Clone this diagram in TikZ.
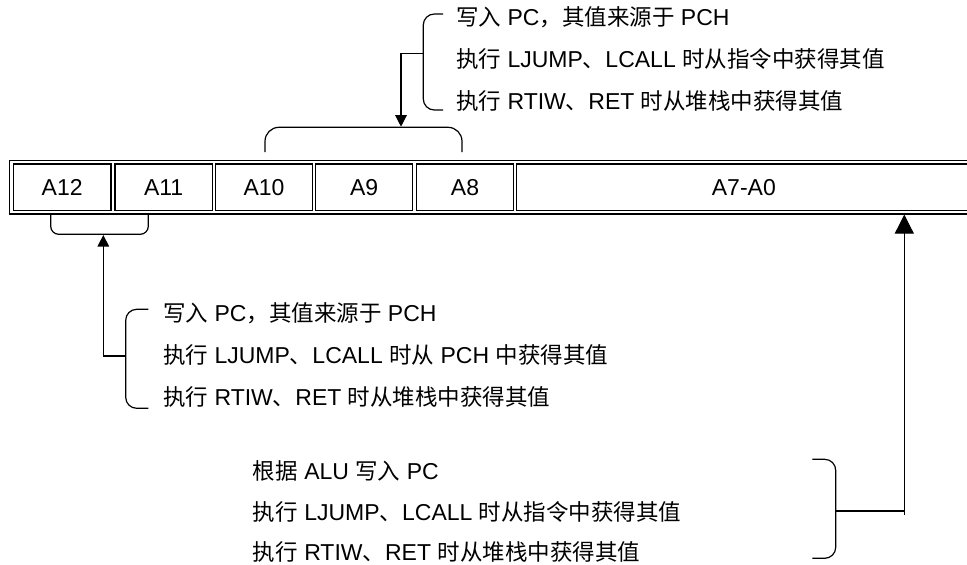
\documentclass[tikz,border=0pt]{standalone}
\usepackage{fontspec}
\setmainfont{Liberation Sans}
\newfontfamily\cjkfont{Noto Sans CJK SC}
\usetikzlibrary{arrows.meta}
\newcommand\zh[1]{{\cjkfont\fontsize{22.5}{24}\selectfont #1}}
\tikzset{
  ln/.style={line width=1.2pt},
  cell/.style={draw, line width=1.2pt, inner sep=0pt, outer sep=0pt, minimum height=46.7pt, font=\fontsize{23}{24}\selectfont},
  note/.style={anchor=west, inner sep=0pt, font=\fontsize{23}{24}\selectfont},
  brk/.style={line width=1.2pt, rounded corners=11pt},
  arr/.style={line width=1.2pt, -{Triangle[length=11.5pt,width=11.5pt]}},
  bigarr/.style={line width=1.2pt, -{Triangle[length=19pt,width=19pt]}},
}
\begin{document}
\begin{tikzpicture}[x=1pt,y=-1pt]
\clip (0,0) rectangle (967,565);
\fill[white] (0,0) rectangle (967,565);
% register outer frame
\draw[ln] (9.3,160.7) rectangle (990,214);
% cells
\node[cell, minimum width=97.7pt]  (a12) at (62.15,187.35) {A12};
\node[cell, minimum width=97.3pt]  (a11) at (163.65,187.35) {A11};
\node[cell, minimum width=96.6pt]  (a10) at (264.0,187.35) {A10};
\node[cell, minimum width=97.0pt]  (a9)  at (364.2,187.35) {A9};
\node[cell, minimum width=96.6pt]  (a8)  at (465.0,187.35) {A8};
\node[cell, minimum width=454.3pt] (a70) at (743.85,187.35) {A7-A0};
% top brace over A10-A8
\draw[brk, rounded corners=14pt] (265,152) -- (265,127.3) -- (462,127.3) -- (462,152);
% bottom brace under A12-A11
\draw[brk, rounded corners=8pt] (50.7,214) -- (50.7,234.3) -- (148.3,234.3) -- (148.3,214);
% top annotation
\node[note] (t1) at (456,17) {\zh{写入} PC\zh{，其值来源于} PCH};
\node[note] (t2) at (456,59) {\zh{执行} LJUMP\zh{、}LCALL \zh{时从指令中获得其值}};
\node[note] (t3) at (456,101) {\zh{执行} RTIW\zh{、}RET \zh{时从堆栈中获得其值}};
\draw[brk] (443,14) -- (423.3,14) -- (423.3,110) -- (443,110);
\coordinate (ttick) at (423.3,53.3);
\coordinate (ttip) at (401,126.7);
\draw[arr] (ttick) -| (ttip);
% left annotation
\node[note] (l1) at (163,313) {\zh{写入} PC\zh{，其值来源于} PCH};
\node[note] (l2) at (163,355) {\zh{执行} LJUMP\zh{、}LCALL \zh{时从} PCH \zh{中获得其值}};
\node[note] (l3) at (163,397) {\zh{执行} RTIW\zh{、}RET \zh{时从堆栈中获得其值}};
\draw[brk] (148.3,309.3) -- (125.7,309.3) -- (125.7,408.3) -- (148.3,408.3);
\coordinate (ltick) at (125.7,356);
\coordinate (ltip) at (103.3,235);
\draw[arr] (ltick) -| (ltip);
% bottom right annotation
\node[note] (b1) at (252.7,471) {\zh{根据} ALU \zh{写入} PC};
\node[note] (b2) at (252.7,511.5) {\zh{执行} LJUMP\zh{、}LCALL \zh{时从指令中获得其值}};
\node[note] (b3) at (252.7,552) {\zh{执行} RTIW\zh{、}RET \zh{时从堆栈中获得其值}};
\draw[brk] (812.3,459.3) -- (835.7,459.3) -- (835.7,558.3) -- (812.3,558.3);
\coordinate (rtick) at (835.7,511);
\coordinate (rtip) at (904.3,214.6);
\coordinate (rfoot) at (904.3,515);
\draw[ln] (rtick) -- (rtick -| rtip);
\draw[bigarr] (rfoot) -- (rtip);
\end{tikzpicture}
\end{document}
